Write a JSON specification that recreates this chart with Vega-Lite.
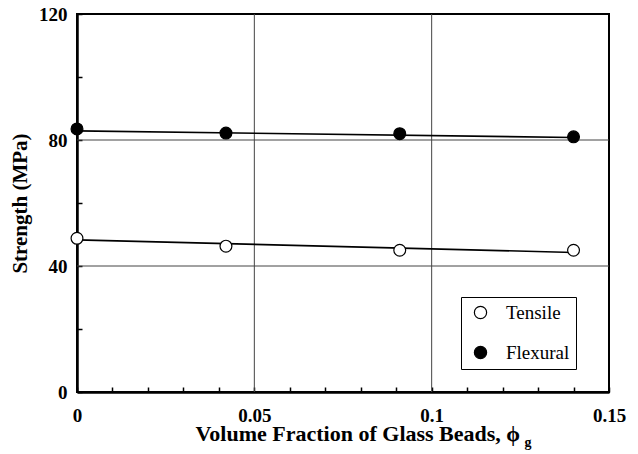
{
  "$schema": "https://vega.github.io/schema/vega-lite/v6.json",
  "autosize": "none",
  "width": 532,
  "height": 378,
  "padding": {"left": 77, "top": 14, "right": 29, "bottom": 62},
  "background": "white",
  "config": {
    "view": {"stroke": "black", "strokeWidth": 2},
    "font": "Liberation Serif",
    "axis": {"labelOverlap": false, "labelFlush": false}
  },
  "datasets": {
    "measured": [
      {"phi": 0.0, "strength": 48.8, "type": "Tensile"},
      {"phi": 0.042, "strength": 46.3, "type": "Tensile"},
      {"phi": 0.091, "strength": 45.0, "type": "Tensile"},
      {"phi": 0.14, "strength": 45.0, "type": "Tensile"},
      {"phi": 0.0, "strength": 83.5, "type": "Flexural"},
      {"phi": 0.042, "strength": 82.2, "type": "Flexural"},
      {"phi": 0.091, "strength": 82.0, "type": "Flexural"},
      {"phi": 0.14, "strength": 81.0, "type": "Flexural"}
    ],
    "fit": [
      {"phi": 0.0, "strength": 48.3, "type": "Tensile"},
      {"phi": 0.14, "strength": 44.3, "type": "Tensile"},
      {"phi": 0.0, "strength": 82.9, "type": "Flexural"},
      {"phi": 0.14, "strength": 80.8, "type": "Flexural"}
    ],
    "gridX": [{"phi": 0.05}, {"phi": 0.1}],
    "gridY": [{"strength": 40}, {"strength": 80}],
    "subscript": [{"phi": 0.1262, "strength": 0, "text": "g"}]
  },
  "encoding": {
    "x": {
      "field": "phi",
      "type": "quantitative",
      "scale": {"domain": [0, 0.15], "nice": false, "zero": false},
      "axis": {
        "title": "Volume Fraction of Glass Beads, ϕ",
        "titleFont": "Liberation Serif",
        "titleFontSize": 22,
        "titleFontWeight": "bold",
        "titleColor": "black",
        "titleAlign": "left",
        "titleBaseline": "alphabetic",
        "titleX": 118,
        "titleY": 48,
        "values": [0, 0.01, 0.02, 0.03, 0.04, 0.05, 0.06, 0.07, 0.08, 0.09, 0.1, 0.11, 0.12, 0.13, 0.14, 0.15],
        "labelExpr": "abs(round(datum.value * 100) % 5) == 0 ? (datum.value == 0 ? '0' : format(datum.value, '~g')) : ''",
        "labelFont": "Liberation Serif",
        "labelFontSize": 19,
        "labelFontWeight": "bold",
        "labelColor": "black",
        "labelPadding": 19,
        "labelFlush": false,
        "labelOverlap": false,
        "tickSize": -5,
        "tickColor": "black",
        "tickWidth": 1.5,
        "domainColor": "black",
        "domainWidth": 2.5,
        "grid": false
      }
    },
    "y": {
      "field": "strength",
      "type": "quantitative",
      "scale": {"domain": [0, 120], "nice": false},
      "axis": {
        "title": "Strength (MPa)",
        "titleFont": "Liberation Serif",
        "titleFontSize": 21,
        "titleFontWeight": "bold",
        "titleColor": "black",
        "titlePadding": 8,
        "values": [0, 20, 40, 60, 80, 100, 120],
        "labelExpr": "datum.value % 40 == 0 ? datum.label : ''",
        "labelFont": "Liberation Serif",
        "labelFontSize": 19,
        "labelFontWeight": "bold",
        "labelColor": "black",
        "labelPadding": 15,
        "labelFlush": false,
        "labelOverlap": false,
        "tickSize": -5,
        "tickColor": "black",
        "tickWidth": 1.5,
        "domainColor": "black",
        "domainWidth": 2.5,
        "grid": false
      }
    }
  },
  "layer": [
    {
      "data": {"name": "gridX"},
      "mark": {"type": "rule", "color": "#444444", "strokeWidth": 1},
      "encoding": {"y": {"value": 0}, "y2": {"value": "height"}}
    },
    {
      "data": {"name": "gridY"},
      "mark": {"type": "rule", "color": "#444444", "strokeWidth": 1},
      "encoding": {"x": {"value": 0}, "x2": {"value": "width"}}
    },
    {
      "data": {"name": "fit"},
      "mark": {"type": "line", "color": "black", "strokeWidth": 1.6},
      "encoding": {"detail": {"field": "type"}}
    },
    {
      "data": {"name": "measured"},
      "mark": {"type": "point", "filled": true, "size": 140, "stroke": "black", "strokeWidth": 1.2, "opacity": 1},
      "encoding": {
        "fill": {
          "field": "type",
          "type": "nominal",
          "scale": {"domain": ["Tensile", "Flexural"], "range": ["white", "black"]},
          "legend": {
            "title": null,
            "orient": "none",
            "legendX": 384,
            "legendY": 283,
            "strokeColor": "black",
            "fillColor": "white",
            "padding": 6,
            "symbolType": "circle",
            "symbolSize": 150,
            "symbolStrokeColor": "black",
            "symbolStrokeWidth": 1.2,
            "symbolOffset": 4,
            "labelFont": "Liberation Serif",
            "labelFontSize": 19,
            "labelColor": "black",
            "labelOffset": 16,
            "rowPadding": 20
          }
        }
      }
    },
    {
      "data": {"name": "subscript"},
      "mark": {"type": "text", "font": "Liberation Serif", "fontSize": 14, "fontWeight": "bold", "color": "black", "align": "left", "baseline": "alphabetic", "dy": 55},
      "encoding": {"text": {"field": "text"}}
    }
  ]
}
